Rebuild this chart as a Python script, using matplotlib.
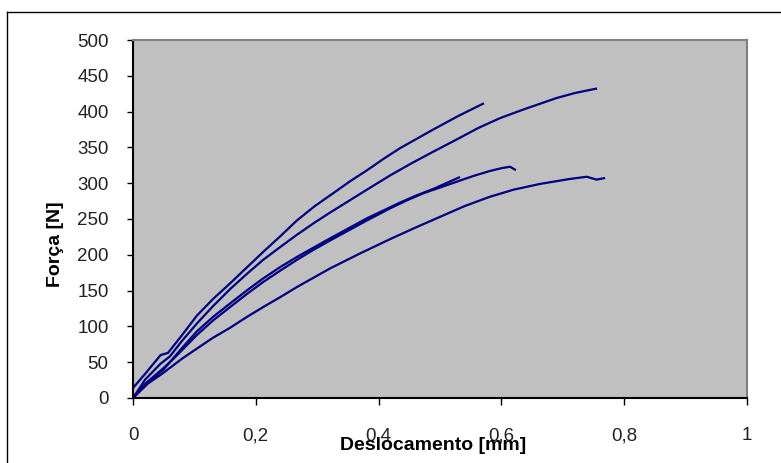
import numpy as np
import matplotlib
matplotlib.use('Agg')
import matplotlib.pyplot as plt
from matplotlib.lines import Line2D

plt.rcParams['font.family'] = ['Liberation Sans', 'DejaVu Sans']

# ensaios de flexao: deslocamento [mm] x forca [N]
x1 = [0, 0.02, 0.045, 0.057, 0.08, 0.104, 0.13, 0.158, 0.185, 0.212, 0.24, 0.267, 0.296,
      0.326, 0.354, 0.381, 0.408, 0.435, 0.462, 0.489, 0.53, 0.57]
y1 = [14, 34, 60, 63, 88, 115, 138, 160, 182, 204, 226, 248, 268,
      286, 303, 318, 334, 349, 362, 375, 394, 411]

x2 = [0, 0.02, 0.045, 0.06, 0.08, 0.104, 0.13, 0.158, 0.185, 0.212, 0.24, 0.267, 0.294,
      0.321, 0.351, 0.381, 0.419, 0.454, 0.489, 0.527, 0.562, 0.598, 0.636, 0.663, 0.69,
      0.72, 0.754]
y2 = [0, 26, 48, 58, 80, 104, 128, 152, 173, 193, 211, 228, 244,
      259, 275, 291, 311, 328, 344, 361, 377, 391, 403, 411, 419, 426, 432]

x3 = [0, 0.02, 0.05, 0.065, 0.08, 0.104, 0.13, 0.158, 0.185, 0.212, 0.24, 0.267, 0.294,
      0.321, 0.351, 0.381, 0.419, 0.446, 0.473, 0.5, 0.527, 0.554, 0.581, 0.6, 0.614, 0.622]
y3 = [0, 20, 42, 54, 67, 88, 108, 127, 145, 162, 178, 193, 207,
      220, 234, 248, 265, 276, 286, 294, 302, 310, 317, 321, 323, 319]

x4 = [0, 0.025, 0.05, 0.06, 0.08, 0.104, 0.13, 0.158, 0.185, 0.212, 0.24, 0.267, 0.294,
      0.321, 0.351, 0.381, 0.408, 0.435, 0.462, 0.489, 0.51, 0.531]
y4 = [0, 22, 40, 50, 70, 93, 113, 132, 150, 167, 183, 197, 210,
      223, 237, 251, 262, 273, 283, 292, 300, 308]

x5 = [0, 0.024, 0.046, 0.06, 0.08, 0.104, 0.13, 0.158, 0.185, 0.212, 0.24, 0.267, 0.294,
      0.321, 0.37, 0.419, 0.46, 0.5, 0.54, 0.581, 0.62, 0.663, 0.712, 0.739, 0.755, 0.767]
y5 = [0, 20, 33, 42, 55, 69, 84, 98, 113, 127, 141, 155, 168,
      181, 202, 222, 238, 253, 268, 281, 291, 299, 306, 309, 305, 307]

xticks = [0, 0.2, 0.4, 0.6, 0.8, 1]
xticklabels = ['0', '0,2', '0,4', '0,6', '0,8', '1']
yticks = list(range(0, 501, 50))

fig = plt.figure(figsize=(7.81, 4.63), dpi=100)
ax = fig.add_axes([0.1703, 0.1404, 0.7862, 0.7732])
ax.set_facecolor('#C0C0C0')

for xs, ys in [(x1, y1), (x2, y2), (x3, y3), (x4, y4), (x5, y5)]:
    ax.plot(xs, ys, color='#000080', lw=1.6, solid_joinstyle='round')

ax.set_xlim(0, 1)
ax.set_ylim(0, 500)
ax.set_xticks(xticks)
ax.set_xticklabels(xticklabels)
ax.set_yticks(yticks)

ax.spines['left'].set_color('black')
ax.spines['bottom'].set_color('black')
ax.spines['top'].set_color('#808080')
ax.spines['right'].set_color('#808080')
for s in ax.spines.values():
    s.set_linewidth(1.5)

ax.tick_params(axis='y', direction='out', length=4.5, width=1, pad=13,
               labelsize=13.5, labelcolor='#222222')
ax.tick_params(axis='x', direction='out', length=5, width=1, pad=16,
               labelsize=13.5, labelcolor='#222222')

fig.text(433 / 781, 1 - 446 / 463, 'Deslocamento [mm]', ha='center', va='center',
         fontsize=14, fontweight='bold')
fig.text(55 / 781, 1 - 244 / 463, 'Força [N]', ha='center', va='center',
         rotation=90, fontsize=14, fontweight='bold')

# moldura do grafico
fig.add_artist(Line2D([7 / 781, 1], [1 - 12 / 463, 1 - 12 / 463], color='black', lw=1))
fig.add_artist(Line2D([7 / 781, 7 / 781], [0, 1 - 12 / 463], color='black', lw=1))

plt.savefig('out.png', dpi=100)
